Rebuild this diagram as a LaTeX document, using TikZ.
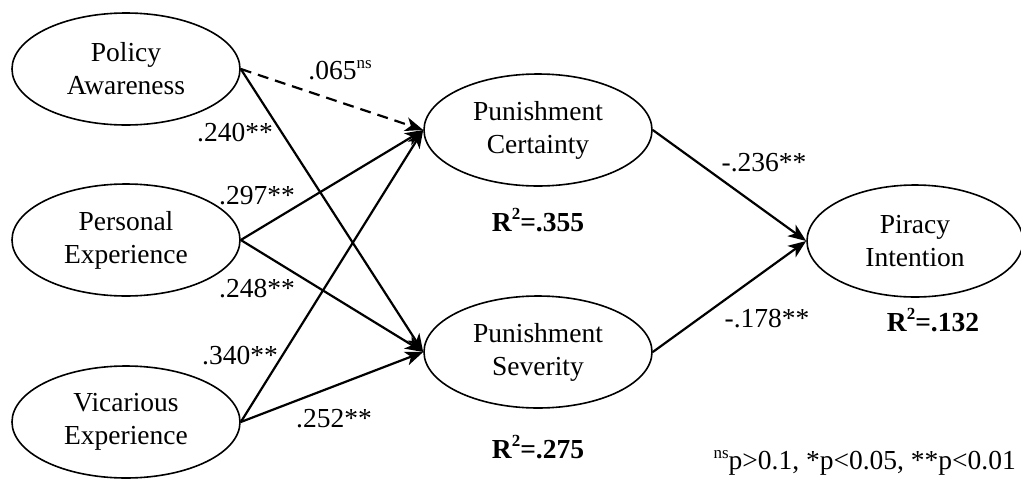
\documentclass[tikz,border=0pt]{standalone}
\usepackage{fontspec}
\setmainfont{Liberation Serif}
\usetikzlibrary{shapes.geometric,arrows.meta}
\newcommand{\mysup}[1]{\raisebox{0.42em}{\fontsize{17}{17}\selectfont #1}}
\begin{document}
\begin{tikzpicture}[x=1pt,y=-1pt,
  font=\fontsize{27.5}{33}\selectfont,
  construct/.style={ellipse,draw,line width=1.6pt,minimum width=228pt,minimum height=112pt,inner sep=0pt,align=center},
  path/.style={line width=2.2pt,-{Stealth[length=18pt,width=14pt,inset=5pt]}},
  nsline/.style={path,dash pattern=on 11pt off 7pt},
  lbl/.style={inner sep=0pt,anchor=center},
  rsq/.style={inner sep=0pt,font=\fontsize{27.5}{33}\selectfont\bfseries}]
\useasboundingbox (0,0) rectangle (1021,480);
\node[construct] (pa) at (126,69) {Policy\\Awareness};
\node[construct] (pe) at (126,240) {Personal\\Experience};
\node[construct] (ve) at (126,422) {Vicarious\\Experience};
\node[construct] (pc) at (538,130) {Punishment\\Certainty};
\node[construct] (ps) at (538,352) {Punishment\\Severity};
\node[construct,minimum width=216pt] (pi) at (915,241) {Piracy\\Intention};

\draw[nsline] (pa.east) -- (pc.west);
\draw[path] (pa.east) -- (ps.west);
\draw[path] (pe.east) -- (pc.west);
\draw[path] (pe.east) -- (ps.west);
\draw[path] (ve.east) -- (pc.west);
\draw[path] (ve.east) -- (ps.west);
\draw[path] (pc.east) -- (pi.west);
\draw[path] (ps.east) -- (pi.west);

\node[lbl] (l1) at (340,70) {.065\mysup{ns}};
\node[lbl] (l2) at (235,133) {.240**};
\node[lbl] (l3) at (257,196) {.297**};
\node[lbl] (l4) at (257,289) {.248**};
\node[lbl] (l5) at (240,356) {.340**};
\node[lbl] (l6) at (334,419) {.252**};
\node[lbl] (l7) at (764,163) {-.236**};
\node[lbl] (l8) at (767,319) {-.178**};

\node[rsq] (r1) at (538,220) {R\mysup{\bfseries 2}=.355};
\node[rsq] (r2) at (538,447) {R\mysup{\bfseries 2}=.275};
\node[rsq] (r3) at (933,320) {R\mysup{\bfseries 2}=.132};

\node[inner sep=0pt,anchor=east] (fn) at (1016,463) {\mysup{ns}p>0.1, *p<0.05, **p<0.01};
\end{tikzpicture}
\end{document}
